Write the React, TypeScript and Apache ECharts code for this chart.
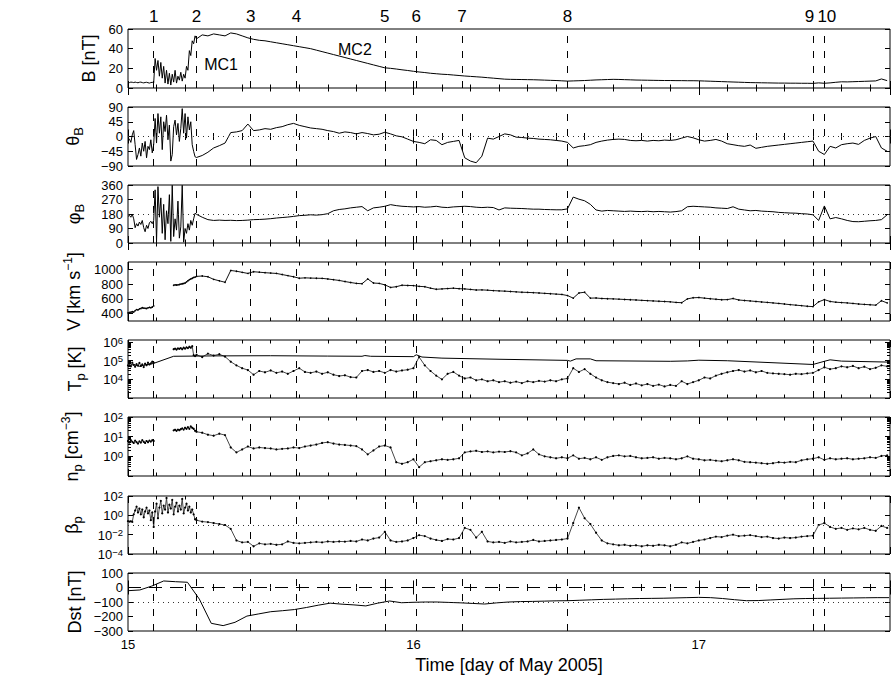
import React, { useEffect, useRef } from "react";
import * as echarts from "echarts";

const FONT = '"Liberation Sans", Arial, Helvetica, sans-serif';

// ---------- sampling grids (day of May 2005) ----------
const HI_T0 = 15.0;
const HI_DT = 0.005; // 48 samples, 15.000 .. 15.235
const LO_T0 = 15.24;
const LO_DT = 0.02; // 122 samples, 15.24 .. 17.66
const DST_T0 = 15.0;
const DST_DT = 1 / 24; // hourly
const X_MIN = 15;
const X_MAX = 17.67;

// ---------- events ----------
const EVENT_TIMES = [15.091, 15.236, 15.43, 15.59, 15.903, 16.006, 16.173, 16.542, 17.402, 17.439];
const EVENT_NAMES = ["1", "2", "3", "4", "5", "6", "7", "8", "9", "10"];

// ---------- B [nT] ----------
const B_HI = [
  6, 5.5, 6, 5.8, 5.5, 6, 5.6, 5.3, 5.8, 6, 5.5, 5.2, 5.6, 5.8, 5.4, 5, 5.5, 5.8, 5,
  30, 18, 28, 12, 26, 10, 22, 5, 18, 4, 15, 3, 14, 6, 18, 5, 12, 8, 16, 7, 14, 10, 22, 18, 38, 33, 48, 45, 53,
];
const B_LO = [
  50, 54, 53, 55, 54, 53, 56, 55, 53, 51,
  49.5, 48.5, 48, 47, 46, 45, 44, 43, 42, 41,
  40, 38.5, 37, 35.5, 34, 32.5, 31, 29.5, 28, 26.5,
  25, 23.5, 22, 20.5, 20, 19.3, 18.5, 17.8, 17, 16.3,
  15.7, 15, 14.5, 14, 13.7, 13.2, 12.7, 12.2, 11.8, 11.4,
  11, 10.5, 10, 9.5, 9, 8.8, 8.7, 8.6, 8.5, 8.4,
  8.2, 8, 7.8, 7.6, 7.3, 7, 7.2, 7.4, 7.6, 7.9,
  8.2, 8.4, 8.6, 8.8, 8.7, 8.5, 8.3, 8.1, 8, 7.9,
  7.8, 7.7, 7.6, 7.6, 7.5, 7.5, 7.4, 7.4, 7.3, 7.1,
  6.9, 6.7, 6.5, 6.3, 6.1, 5.9, 5.7, 5.5, 5.4, 5.3,
  5.2, 5.1, 5, 5, 4.9, 4.9, 4.8, 4.8, 4.7, 5.2,
  4.8, 5.2, 5.8, 6.3, 6.2, 6.4, 6.6, 6.8, 7, 7.2,
  9.2, 7.5,
];

// ---------- theta_B [deg] ----------
const TH_HI = [
  -12, -8, -18, 5, 18, -25, -70, -55, -35, -60, -20, -45, -15, -65, -30, -40, -10, -50, -25,
  55, -20, 70, 10, 60, -40, 45, 15, 65, -10, 35, -75, -55, 30, 50, 5, 40, -15, 25, 85, 10, 70, -5, 60, 20, 45, -25, -45, -62,
];
const TH_LO = [
  -64, -58, -48, -35, -28, -20, 12, 14, 18, 38,
  18, 20, 24, 22, 27, 30, 36, 40, 34, 30,
  26, 24, 22, 18, 15, 10, 14, 12, 8, 12,
  9, 5, 7, 13, 8, 2, -1, -8, -15, -18,
  -22, -10, -12, -25, -18, -15, -12, -65, -75, -80,
  -60, -5, -8, 0, 8, 5, -2, -3, -5, -6,
  -8, -9, -10, -12, -14, -18, -35, -30, -28, -25,
  -18, -14, -11, -9, -8, -9, -12, -13, -12, -14,
  -12, -13, -11, -12, -10, -5, 0, -4, -10, -14,
  -12, -9, -14, -22, -25, -28, -30, -26, -36, -33,
  -30, -28, -26, -24, -22, -20, -18, -16, -14, -45,
  -55, -30, -35, -25, -22, -20, -24, -12, -5, 0,
  -35, -45,
];

// ---------- phi_B [deg] ----------
const PH_HI = [
  165, 172, 160, 178, 150, 95, 120, 105, 130, 115, 140, 95, 70, 110, 90, 125, 135, 120, 140,
  330, 10, 350, 160, 280, 60, 240, 20, 200, 120, 300, 10, 358, 40, 150, 80, 260, 30, 100, 358, 5, 90, 60, 120, 80, 140, 110, 150, 185,
];
const PH_LO = [
  178, 160, 145, 140, 142, 140, 141, 139, 140, 142,
  145, 146, 148, 151, 155, 158, 161, 165, 170, 172,
  175, 173, 176, 182, 200, 208, 212, 218, 222, 226,
  200, 218, 222, 228, 238, 232, 228, 226, 224, 226,
  222, 224, 228, 222, 220, 224, 226, 228, 226, 222,
  220, 222, 220, 205, 218, 216, 215, 214, 212, 210,
  210, 208, 207, 206, 206, 212, 285, 272, 262, 240,
  205, 198, 202, 200, 198, 196, 198, 196, 195, 197,
  194, 196, 194, 192, 195, 200, 225, 228, 226, 224,
  222, 218, 216, 214, 225, 210, 205, 200, 202, 198,
  196, 194, 190, 188, 186, 185, 182, 180, 175, 140,
  230, 150, 158, 150, 140, 133, 132, 135, 138, 140,
  145, 175,
];

// ---------- V [km/s] ----------
const V_HI = [
  410, 415, 420, 425, 422, 440, 455, 450, 465, 470, 480, 475, 472, 470, 478, 485, 480, 490, 505,
  null, null, null, null, null, null, null, null, null, null, null, null, null,
  785, 790, 788, 790, 795, 800, 805, 808, 815, 830, 845, 860, 870, 880, 890, 895,
];
const V_LO = [
  905, 910, 900, 865, 845, 825, 985, 975, 960, 945,
  968, 962, 955, 950, 945, 930, 915, 900, 880, 885,
  882, 880, 878, 870, 860, 850, 835, 822, 810, 805,
  870, 815, 810, 790, 755, 765, 785, 782, 780, 770,
  765, 745, 730, 735, 740, 745, 738, 735, 728, 720,
  722, 718, 712, 708, 705, 700, 695, 690, 688, 684,
  680, 675, 670, 665, 660, 645, 610, 680, 690, 610,
  612, 605, 602, 600, 596, 592, 588, 585, 580, 576,
  572, 568, 564, 560, 552, 548, 600, 615, 618, 610,
  602, 595, 588, 590, 605, 585, 578, 572, 565, 558,
  552, 545, 538, 530, 522, 515, 508, 500, 495, 560,
  590, 565, 555, 550, 545, 538, 530, 525, 520, 515,
  575, 545,
];

// ---------- Tp, log10(K) ----------
const TP_HI_LOG = [
  4.75, 4.85, 4.7, 4.9, 4.78, 4.68, 4.82, 4.74, 4.88, 4.72, 4.8, 4.66, 4.84, 4.76, 4.9, 4.8, 4.86, 4.95, 4.9,
  null, null, null, null, null, null, null, null, null, null, null, null, null,
  5.62, 5.65, 5.6, 5.66, 5.64, 5.68, 5.62, 5.7, 5.65, 5.72, 5.68, 5.75, 5.7, 5.78, 5.3, 5.25,
];
const TP_LO_LOG = [
  5.32, 5.2, 5.38, 5.28, 5.35, 5.22, 4.95, 4.75, 4.6, 4.5,
  4.25, 4.45, 4.38, 4.48, 4.35, 4.42, 4.3, 4.45, 4.6, 4.4,
  4.35, 4.42, 4.3, 4.38, 4.25, 4.18, 4.22, 4.12, 4.1, 4.45,
  4.5, 4.4, 4.45, 4.35, 4.5, 4.42, 4.48, 4.52, 4.6, 5.2,
  4.75, 4.45, 4.2, 4.0, 4.3, 4.4, 4.2, 4.05, 4.1, 3.95,
  4.0, 3.9, 3.95, 3.85, 3.9, 3.82, 3.88, 3.8, 3.9, 3.85,
  3.92, 3.88, 3.95, 3.9, 4.0, 4.05, 4.6, 4.4, 4.55, 4.3,
  4.1, 3.95, 3.85, 3.8, 3.75, 3.82, 3.7, 3.78, 3.68, 3.75,
  3.65, 3.72, 3.62, 3.7, 3.65, 3.9, 3.75, 3.85, 3.95, 4.1,
  4.05, 4.2, 4.3, 4.38, 4.45, 4.5, 4.42, 4.48, 4.38, 4.45,
  4.35, 4.32, 4.3, 4.28, 4.25, 4.3, 4.28, 4.32, 4.35, 4.5,
  4.65, 4.55, 4.6, 4.7, 4.65, 4.72, 4.6, 4.68, 4.55, 4.62,
  4.75, 4.7,
];
const TP_EXP_T = [15.0, 15.02, 15.04, 15.06, 15.08, 15.09, 15.16, 15.3, 15.5, 15.7, 15.82, 15.83, 15.85, 16.0, 16.01, 16.03, 16.1, 16.3, 16.54, 16.55, 16.57, 16.62, 16.64, 16.9, 16.96, 17.0, 17.1, 17.4, 17.44, 17.46, 17.5, 17.66];
const TP_EXP_LOG = [4.72, 4.8, 4.7, 4.78, 4.82, 4.86, 5.24, 5.26, 5.27, 5.25, 5.24, 5.28, 5.24, 5.22, 5.32, 5.2, 5.14, 5.08, 5.02, 4.98, 5.1, 5.1, 5.0, 4.97, 4.99, 5.03, 5.0, 4.8, 4.97, 5.05, 4.98, 4.93];

// ---------- np, log10(cm^-3) ----------
const NP_HI_LOG = [
  0.78, 0.7, 0.82, 0.74, 0.68, 0.8, 0.72, 0.65, 0.76, 0.7, 0.82, 0.74, 0.68, 0.78, 0.72, 0.8, 0.75, 0.82, 0.78,
  null, null, null, null, null, null, null, null, null, null, null, null, null,
  1.32, 1.35, 1.3, 1.36, 1.33, 1.38, 1.42, 1.36, 1.45, 1.4, 1.48, 1.4, 1.52, 1.45, 1.4, 1.3,
];
const NP_LO_LOG = [
  1.25, 1.2, 1.1, 1.05, 1.15, 1.08, 0.45, 0.2, 0.35, 0.5,
  0.4, 0.45, 0.42, 0.4, 0.35, 0.38, 0.4, 0.45, 0.42, 0.5,
  0.55, 0.6, 0.68, 0.72, 0.65, 0.6, 0.58, 0.55, 0.52, 0.35,
  0.1, 0.3, 0.5, 0.55, 0.45, -0.3, -0.38, -0.3, -0.15, -0.55,
  -0.3, -0.25, -0.2, -0.15, -0.18, -0.15, -0.1, 0.2, 0.25, 0.28,
  0.22, 0.25, 0.2, 0.24, 0.22, 0.26, 0.2, 0.05, 0.15, 0.35,
  0.1, 0.0, -0.05, -0.1, -0.05, -0.1, 0.05, -0.12, -0.08, -0.15,
  -0.05, -0.18, -0.05, 0.02, 0.05, 0.0, 0.02, -0.05, -0.1, -0.08,
  -0.05, -0.12, -0.08, -0.1, -0.15, -0.1, 0.0, -0.12, -0.15, -0.2,
  -0.18, -0.22, -0.25, -0.2, -0.15, -0.2, -0.28, -0.3, -0.32, -0.35,
  -0.38, -0.35, -0.3, -0.32, -0.28, -0.3, -0.2, -0.15, -0.12, -0.05,
  -0.18, -0.1, -0.15, -0.12, -0.1, -0.15, -0.12, -0.1, -0.05, -0.08,
  0.02, 0.05,
];

// ---------- beta_p, log10 ----------
const BETA_HI_LOG = [
  -0.6, -0.65, -0.62, -0.68, 0.1,
  0.5, 0.9, 0.3, 0.7, 0.1, 0.6, -0.2, 0.4, 0.8, 0.2, 0.5, -0.5, 0.3, -1.2,
  0.4, 1.2, -0.3, 0.8, 1.5, 0.2, 1.0, 0.6, 1.8, 0.3, 1.1, 0.7, 1.6, 0.1, 0.9, 1.3, 0.4, 1.0, 0.6, 1.7, 0.2, 0.8, 1.2, 0.5, 0.9, 0.3, 0.6, 0.1, -0.4,
];
const BETA_LO_LOG = [
  -0.5, -0.65, -0.7, -0.8, -0.9, -1.0, -1.4, -2.6, -2.8, -2.75,
  -3.2, -2.9, -3.0, -2.95, -3.05, -3.0, -2.7, -2.85, -2.9, -2.85,
  -2.8, -2.75, -2.8, -2.7, -2.75, -2.7, -2.72, -2.65, -2.7, -2.5,
  -2.6, -2.4, -2.3, -1.7, -2.6, -2.75, -2.7, -2.6, -2.35, -2.05,
  -2.15, -2.4, -2.55, -2.65, -2.45, -2.5, -2.35, -1.3, -1.5, -2.3,
  -1.7, -2.7, -2.8, -2.75, -2.85, -2.7, -2.8, -2.75, -2.7, -2.55,
  -2.7, -2.65, -2.6, -2.55, -2.5, -2.4, -0.8, 0.8, -0.3, -0.9,
  -1.8, -2.6, -2.9, -3.0, -3.1, -3.05, -3.15, -3.1, -3.2, -3.1,
  -3.15, -3.05, -3.1, -3.2, -3.05, -2.8, -2.9, -2.75, -2.6, -2.5,
  -2.35, -2.2, -2.25, -2.1, -2.0, -2.15, -2.1, -2.05, -2.15, -2.25,
  -2.2, -2.35, -2.4, -2.3, -2.35, -2.3, -2.2, -2.15, -2.1, -1.0,
  -0.8, -1.2, -1.4, -1.3, -1.5, -1.35, -1.45, -1.3, -1.5, -1.6,
  -1.1, -1.3,
];

// ---------- Dst [nT], hourly from 15.0 ----------
const DST = [
  -22, -17, 10, 45, 40, 36, -80, -247, -263, -240,
  -197, -182, -167, -160, -152, -138, -122, -108, -115, -120,
  -127, -108, -93, -105, -102, -100, -100, -103, -106, -110,
  -114, -106, -100, -97, -96, -94, -92, -91, -88, -85,
  -82, -80, -78, -76, -75, -74, -72, -70, -68, -70,
  -76, -84, -91, -90, -86, -82, -78, -76, -75, -74,
  -73, -72, -71, -70, -70,
];

const MC_LABELS = [
  { name: "MC1", t: 15.326, b: 24.4 },
  { name: "MC2", t: 15.795, b: 38.7 },
];

// ---------- layout ----------
const GRIDS = [
  { top: 29, height: 59 },
  { top: 107, height: 59 },
  { top: 185, height: 58 },
  { top: 262, height: 59 },
  { top: 340, height: 58 },
  { top: 417, height: 59 },
  { top: 496, height: 58 },
  { top: 573, height: 58 },
];

type Panel = {
  kind: "lin" | "log";
  min: number;
  max: number;
  ticks: number[];
  labels?: number[];
  minorDecades?: number[];
  name: string;
  gap: number;
};

const PANELS: Panel[] = [
  { kind: "lin", min: 0, max: 60, ticks: [0, 20, 40, 60], name: "{m|B [nT]}", gap: 27 },
  { kind: "lin", min: -90, max: 90, ticks: [-90, -45, 0, 45, 90], name: "{m|θ}{sub|B}", gap: 43 },
  { kind: "lin", min: 0, max: 360, ticks: [0, 90, 180, 270, 360], name: "{m|φ}{sub|B}", gap: 42 },
  { kind: "lin", min: 300, max: 1100, ticks: [400, 600, 800, 1000], name: "{m|V [km s}{sup|−1}{m|]}", gap: 42 },
  { kind: "log", min: 1e3, max: 1.3e6, ticks: [1e3, 1e4, 1e5, 1e6], labels: [1e4, 1e5, 1e6], minorDecades: [3, 4, 5], name: "{m|T}{sub|p}{m| [K]}", gap: 41 },
  { kind: "log", min: 0.1, max: 100, ticks: [0.1, 1, 10, 100], labels: [1, 10, 100], minorDecades: [-1, 0, 1], name: "{m|n}{sub|p}{m| [cm}{sup|−3}{m|]}", gap: 44 },
  { kind: "log", min: 1e-4, max: 100, ticks: [1e-4, 1e-2, 1, 100], labels: [1e-4, 1e-2, 1, 100], minorDecades: [], name: "{m|β}{sub|p}", gap: 44 },
  { kind: "lin", min: -300, max: 100, ticks: [-300, -200, -100, 0, 100], name: "{m|Dst [nT]}", gap: 41 },
];

const pow10 = (v: number) => Math.pow(10, v);

function merge(hi: (number | null)[], lo: (number | null)[], f: (v: number) => number = (v) => v) {
  const out: [number, number | null][] = [];
  hi.forEach((v, i) => out.push([+(HI_T0 + i * HI_DT).toFixed(4), v == null ? null : f(v)]));
  lo.forEach((v, k) => out.push([+(LO_T0 + k * LO_DT).toFixed(4), v == null ? null : f(v)]));
  return out;
}

function supLabel(v: number) {
  const e = Math.round(Math.log10(v));
  return `{b|10}{s|${e < 0 ? "−" + -e : e}}`;
}

const NAME_RICH = {
  m: { fontSize: 18, fontFamily: FONT, color: "#000", lineHeight: 24 },
  sub: { fontSize: 13, fontFamily: FONT, color: "#000", verticalAlign: "bottom" },
  sup: { fontSize: 12, fontFamily: FONT, color: "#000", verticalAlign: "top" },
};
const LOG_LABEL_RICH = {
  b: { fontSize: 13, fontFamily: FONT, color: "#000", lineHeight: 14, verticalAlign: "bottom" },
  s: { fontSize: 9.5, fontFamily: FONT, color: "#000", lineHeight: 10, verticalAlign: "top" },
};

function buildOption() {
  const xAxes: any[] = [];
  const yAxes: any[] = [];
  const series: any[] = [];
  const yIndexOf: number[] = [];

  GRIDS.forEach((_, gi) => {
    const isLast = gi === GRIDS.length - 1;
    (["bottom", "top"] as const).forEach((pos) => {
      const labelled = isLast && pos === "bottom";
      xAxes.push({
        type: "value",
        gridIndex: gi,
        position: pos,
        min: X_MIN,
        max: X_MAX,
        interval: 1,
        axisLine: { show: false },
        axisTick: { show: true, inside: true, length: 7, lineStyle: { color: "#000", width: 1 } },
        minorTick: { show: true, splitNumber: 10, length: 3.5, lineStyle: { color: "#000", width: 1 } },
        splitLine: { show: false },
        minorSplitLine: { show: false },
        axisLabel: {
          show: labelled,
          color: "#000",
          fontSize: 13,
          fontFamily: FONT,
          margin: 7,
          showMinLabel: true,
          showMaxLabel: false,
          formatter: (v: number) => (Math.abs(v - Math.round(v)) < 1e-6 ? String(Math.round(v)) : ""),
        },
        name: labelled ? "Time [day of May 2005]" : "",
        nameLocation: "middle",
        nameGap: 25,
        nameMoveOverlap: false,
        nameTextStyle: { fontSize: 18, fontFamily: FONT, color: "#000" },
      });
    });

    const p = PANELS[gi];
    const tickStyle = { color: "#000", width: 1 };
    if (p.kind === "lin") {
      yIndexOf[gi] = yAxes.length;
      yAxes.push({
        type: "value",
        gridIndex: gi,
        position: "left",
        min: p.min,
        max: p.max,
        axisLine: { show: false },
        axisTick: { show: true, inside: true, length: 5, customValues: p.ticks, lineStyle: tickStyle },
        axisLabel: {
          customValues: p.ticks,
          color: "#000",
          fontSize: 13,
          fontFamily: FONT,
          margin: 5,
          showMinLabel: true,
          showMaxLabel: true,
          hideOverlap: false,
          formatter: (v: number) => String(v).replace("-", "−"),
        },
        splitLine: { show: false },
        name: p.name,
        nameLocation: "middle",
        nameGap: p.gap,
        nameRotate: 90,
        nameMoveOverlap: false,
        nameTextStyle: { rich: NAME_RICH },
      });
      yAxes.push({
        type: "value",
        gridIndex: gi,
        position: "right",
        min: p.min,
        max: p.max,
        axisLine: { show: false },
        axisTick: { show: true, inside: true, length: 5, customValues: p.ticks, lineStyle: tickStyle },
        axisLabel: { show: false },
        splitLine: { show: false },
      });
    } else {
      const minor: number[] = [];
      (p.minorDecades || []).forEach((d) => {
        for (let m = 2; m <= 9; m++) minor.push(+(m * Math.pow(10, d)).toPrecision(6));
      });
      yIndexOf[gi] = yAxes.length;
      yAxes.push({
        type: "log",
        logBase: 10,
        gridIndex: gi,
        position: "left",
        min: p.min,
        max: p.max,
        axisLine: { show: false },
        axisTick: { show: true, inside: true, length: 5, customValues: p.ticks, lineStyle: tickStyle },
        axisLabel: {
          customValues: p.labels,
          formatter: (v: number) => supLabel(v),
          rich: LOG_LABEL_RICH,
          margin: 5,
          showMinLabel: true,
          showMaxLabel: true,
          hideOverlap: false,
        },
        splitLine: { show: false },
        name: p.name,
        nameLocation: "middle",
        nameGap: p.gap,
        nameRotate: 90,
        nameMoveOverlap: false,
        nameTextStyle: { rich: NAME_RICH },
      });
      yAxes.push({
        type: "log",
        logBase: 10,
        gridIndex: gi,
        position: "right",
        min: p.min,
        max: p.max,
        axisLine: { show: false },
        axisTick: { show: true, inside: true, length: 5, customValues: p.ticks, lineStyle: tickStyle },
        axisLabel: { show: false },
        splitLine: { show: false },
      });
      if (minor.length) {
        (["left", "right"] as const).forEach((pos) => {
          yAxes.push({
            type: "log",
            logBase: 10,
            gridIndex: gi,
            position: pos,
            min: p.min,
            max: p.max,
            axisLine: { show: false },
            axisTick: { show: true, inside: true, length: 3, customValues: minor, lineStyle: tickStyle },
            axisLabel: { show: false },
            splitLine: { show: false },
          });
        });
      }
    }
  });

  const eventLines = (gi: number, extra: any[] = []) => ({
    silent: true,
    symbol: ["none", "none"],
    lineStyle: { type: [7, 8], color: "#000", width: 1 },
    label: { show: false },
    emphasis: { disabled: true },
    data: [
      ...EVENT_TIMES.map((t, i) => ({
        xAxis: t,
        name: EVENT_NAMES[i],
        label:
          gi === 0
            ? {
                show: true,
                position: "end",
                formatter: "{b}",
                distance: 4,
                color: "#000",
                fontSize: 17,
                fontFamily: FONT,
                padding: i === 8 ? [0, 7, 0, 0] : i === 9 ? [0, 0, 0, 5] : 0,
              }
            : { show: false },
      })),
      ...extra,
    ],
  });
  const dotted = (v: number) => ({ yAxis: v, lineStyle: { type: [1, 4], color: "#333", width: 1 }, label: { show: false } });
  const dashed = (v: number) => ({ yAxis: v, lineStyle: { type: [13, 8], color: "#000", width: 1 }, label: { show: false } });

  const lineSeries = (gi: number, data: any[], extra: any = {}) => ({
    type: "line",
    xAxisIndex: 2 * gi,
    yAxisIndex: yIndexOf[gi],
    data,
    showSymbol: false,
    connectNulls: false,
    lineStyle: { color: "#000", width: 1 },
    itemStyle: { color: "#000" },
    emphasis: { disabled: true },
    silent: true,
    z: 3,
    ...extra,
  });
  const dotSeries = (gi: number, data: any[], extra: any = {}) => ({
    type: "line",
    xAxisIndex: 2 * gi,
    yAxisIndex: yIndexOf[gi],
    data,
    showSymbol: true,
    showAllSymbol: true,
    symbol: "circle",
    symbolSize: 2.2,
    connectNulls: false,
    lineStyle: { color: "#333", width: 0.9 },
    itemStyle: { color: "#000" },
    emphasis: { disabled: true },
    silent: true,
    z: 3,
    ...extra,
  });

  series.push(
    lineSeries(0, merge(B_HI, B_LO), {
      markLine: eventLines(0),
      markPoint: {
        silent: true,
        symbol: "rect",
        symbolSize: 1,
        itemStyle: { color: "rgba(0,0,0,0)" },
        label: { show: true, position: "inside", formatter: "{b}", color: "#000", fontSize: 16, fontFamily: FONT },
        data: MC_LABELS.map((m) => ({ name: m.name, coord: [m.t, m.b] })),
      },
    })
  );
  series.push(lineSeries(1, merge(TH_HI, TH_LO), { markLine: eventLines(1, [dotted(0)]) }));
  series.push(lineSeries(2, merge(PH_HI, PH_LO), { markLine: eventLines(2, [dotted(180)]) }));
  series.push(dotSeries(3, merge(V_HI, V_LO), { symbolSize: 1.6, lineStyle: { color: "#111", width: 1 }, markLine: eventLines(3) }));
  series.push(dotSeries(4, merge(TP_HI_LOG, TP_LO_LOG, pow10), { markLine: eventLines(4) }));
  series.push(lineSeries(4, TP_EXP_T.map((t, i) => [t, pow10(TP_EXP_LOG[i])]), { z: 4 }));
  series.push(dotSeries(5, merge(NP_HI_LOG, NP_LO_LOG, pow10), { markLine: eventLines(5) }));
  series.push(dotSeries(6, merge(BETA_HI_LOG, BETA_LO_LOG, pow10), { markLine: eventLines(6, [dotted(0.1)]) }));
  series.push(
    lineSeries(7, DST.map((v, h) => [+(DST_T0 + h * DST_DT).toFixed(5), v]), {
      markLine: eventLines(7, [dashed(0), dotted(-100)]),
    })
  );

  return {
    animation: false,
    backgroundColor: "#fff",
    textStyle: { fontFamily: FONT },
    grid: GRIDS.map((g) => ({
      left: 128,
      right: 6,
      top: g.top,
      height: g.height,
      show: true,
      borderColor: "#000",
      borderWidth: 1,
      backgroundColor: "rgba(0,0,0,0)",
      containLabel: false,
      outerBoundsMode: "none",
    })),
    xAxis: xAxes,
    yAxis: yAxes,
    series,
  };
}

export default function App() {
  const ref = useRef<HTMLDivElement>(null);
  useEffect(() => {
    document.body.style.margin = "0";
    if (!ref.current) return;
    const chart = echarts.init(ref.current, undefined, { renderer: "svg" });
    chart.setOption(buildOption() as any);
    return () => chart.dispose();
  }, []);
  return <div ref={ref} style={{ width: 896, height: 680, background: "#fff" }} />;
}
